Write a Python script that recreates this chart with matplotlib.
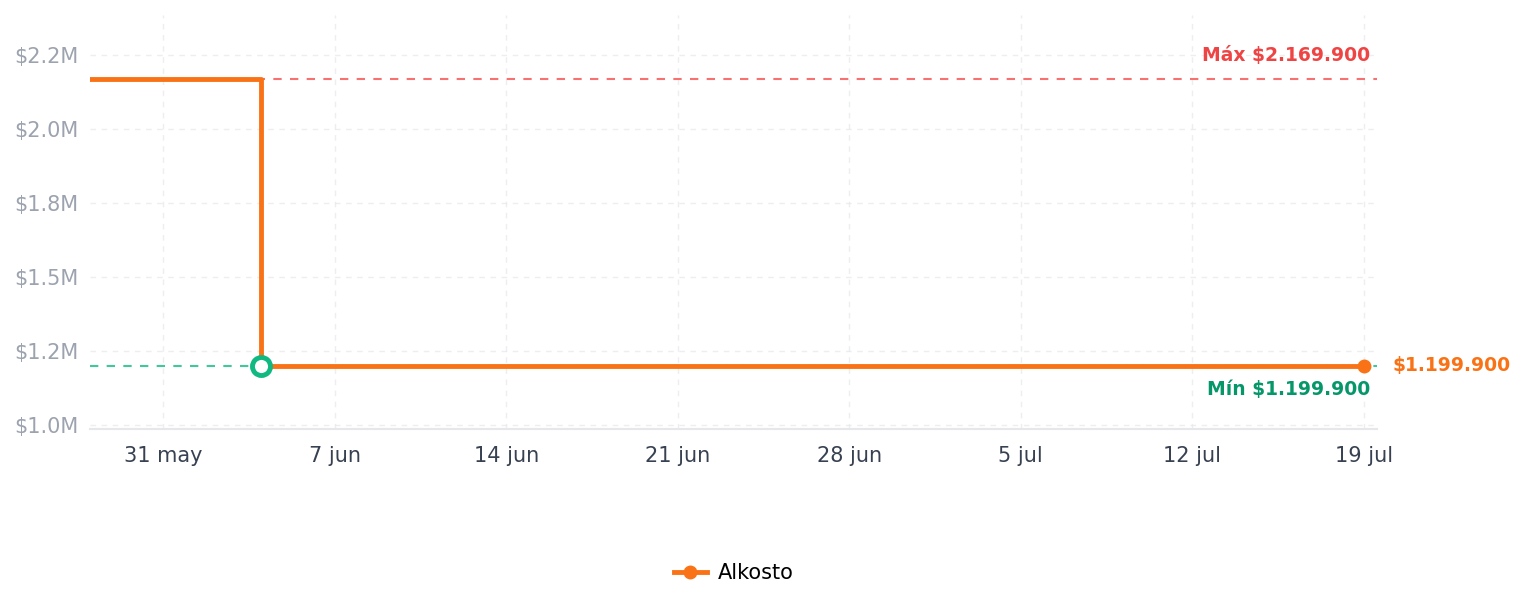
import numpy as np
import pandas as pd
import matplotlib
matplotlib.use("Agg")
import matplotlib.pyplot as plt
import matplotlib.dates as mdates
from matplotlib.ticker import FuncFormatter

# data
dates = pd.to_datetime(["2025-05-28", "2025-06-04", "2025-07-19"])
prices = [2169900, 1199900, 1199900]
store = "Alkosto"
tick_dates = pd.date_range("2025-05-31", "2025-07-19", freq="7D")
y_ticks = [1000000, 1250000, 1500000, 1750000, 2000000, 2250000]
meses = ["ene", "feb", "mar", "abr", "may", "jun", "jul", "ago", "sep", "oct", "nov", "dic"]

ORANGE = "#f97316"
RED = "#ef4444"
GREEN = "#10b981"
GREEN_TXT = "#059669"


def pesos(v):
    # 1199900 -> $1.199.900
    return "$" + f"{int(v):,}".replace(",", ".")


fig = plt.figure(figsize=(15.24, 6.07), dpi=100)
ax = fig.add_axes([0.059, 0.293, 0.8445, 0.682])

max_v = max(prices)
min_v = min(prices)
min_date = dates[int(np.argmin(prices))]

# reference lines for max and min
ax.axhline(max_v, color="#f87171", lw=1.5, ls=(0, (4, 4)), zorder=2)
ax.axhline(min_v, color=GREEN, lw=1.5, ls=(0, (4, 4)), alpha=0.8, zorder=2)

ax.plot(dates, prices, drawstyle="steps-post", color=ORANGE, lw=3.5, zorder=3,
        marker="o", markevery=[len(prices) - 1], markersize=9, label=store)
ax.plot([min_date], [min_v], "o", ms=13, mfc="white", mec=GREEN, mew=3.5, zorder=4)

ax.annotate("Máx " + pesos(max_v), xy=(0.9946, max_v), xycoords=("axes fraction", "data"),
            xytext=(0, 17), textcoords="offset points", ha="right", va="center",
            color=RED, fontsize=13.5, fontweight="bold")
ax.annotate("Mín " + pesos(min_v), xy=(0.9946, min_v), xycoords=("axes fraction", "data"),
            xytext=(0, -17), textcoords="offset points", ha="right", va="center",
            color=GREEN_TXT, fontsize=13.5, fontweight="bold")
ax.annotate(pesos(prices[-1]), xy=(1.0, prices[-1]), xycoords=("axes fraction", "data"),
            xytext=(11, 0), textcoords="offset points", ha="left", va="center",
            color=ORANGE, fontsize=13.5, fontweight="bold", annotation_clip=False)

ax.set_xlim(dates[0], dates[-1] + pd.Timedelta(hours=13))
ax.set_ylim(986500, 2385000)

ax.set_xticks(tick_dates)
ax.xaxis.set_major_formatter(FuncFormatter(
    lambda x, p: f"{mdates.num2date(x).day} {meses[mdates.num2date(x).month - 1]}"))
ax.set_yticks(y_ticks)
ax.yaxis.set_major_formatter(FuncFormatter(lambda v, p: f"${v / 1e6:.1f}M"))

ax.tick_params(axis="x", length=0, pad=12, labelsize=15, labelcolor="#374151")
ax.tick_params(axis="y", length=0, pad=8, labelsize=15, labelcolor="#9ca3af")
ax.grid(True, color="#e5e7eb", ls=(0, (4, 4)), lw=1, alpha=0.7)
ax.set_axisbelow(True)
for s in ["top", "right", "left"]:
    ax.spines[s].set_visible(False)
ax.spines["bottom"].set_color("#e5e7eb")
ax.spines["bottom"].set_linewidth(1.5)

ax.legend(loc="upper center", bbox_to_anchor=(0.5, -0.278), frameon=False,
          fontsize=15, handlelength=1.6, handletextpad=0.5)

fig.savefig("out.png", dpi=100)
